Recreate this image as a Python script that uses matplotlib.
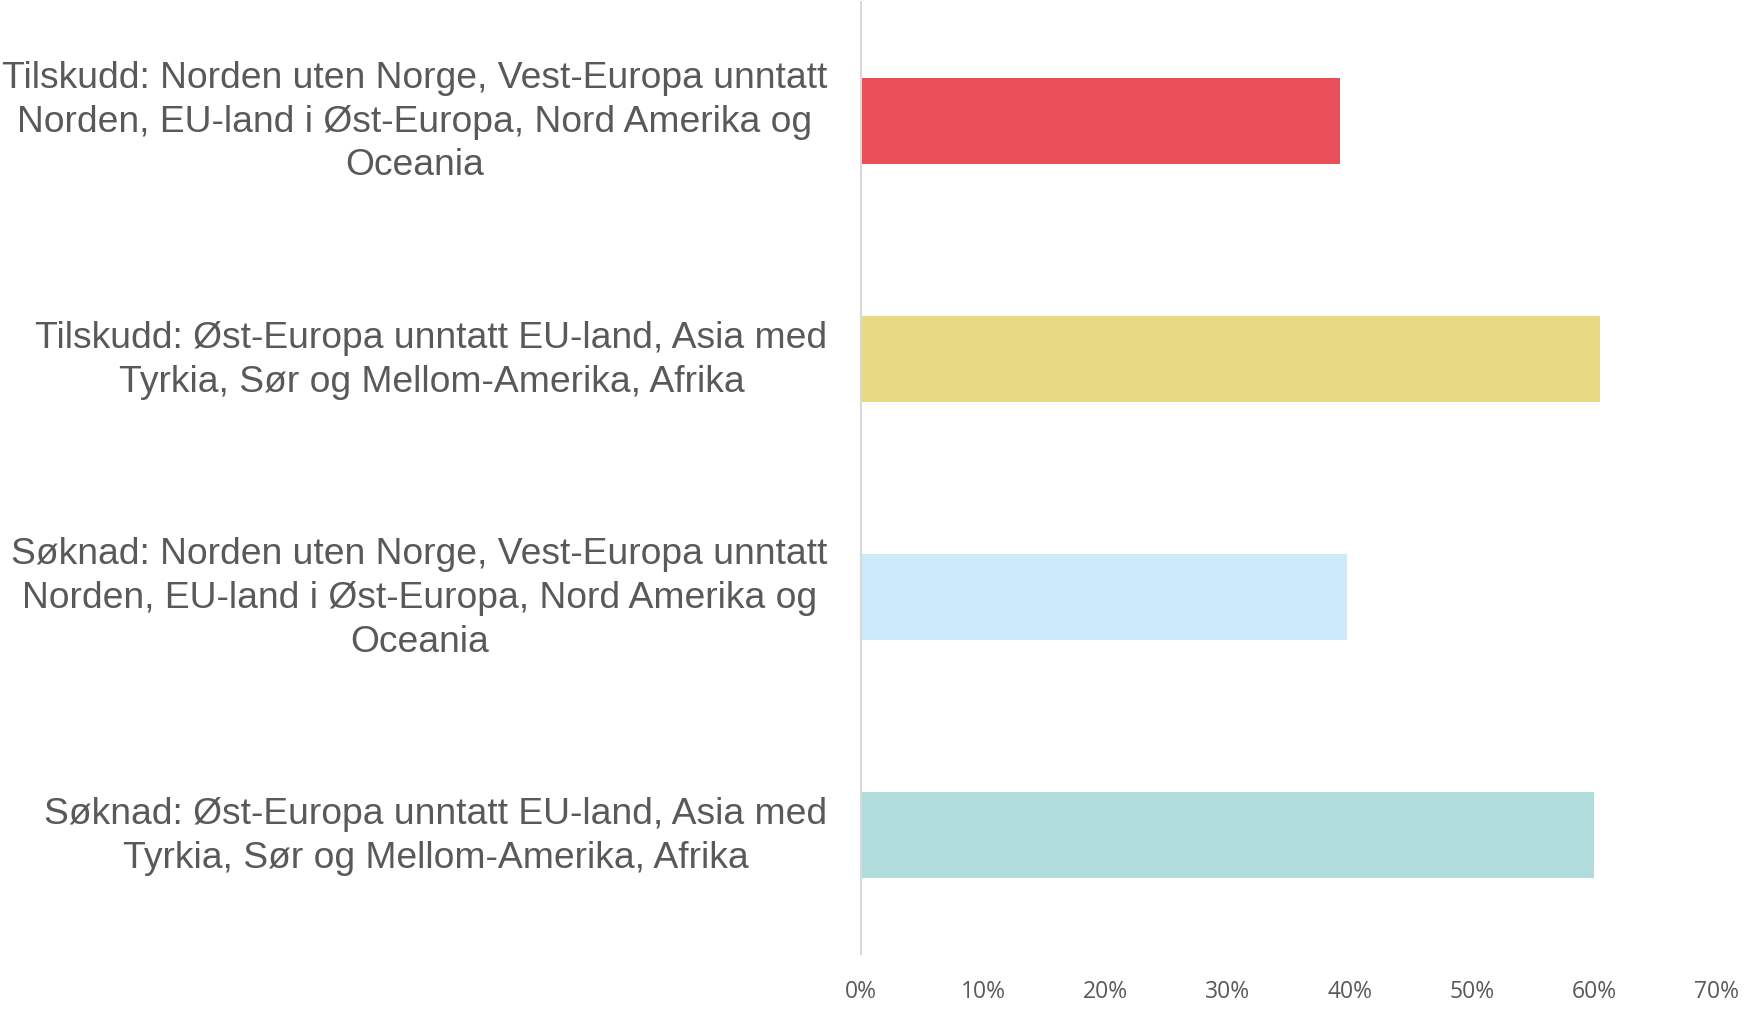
import matplotlib.pyplot as plt
from matplotlib.ticker import FuncFormatter

# Data
categories = [
    "Tilskudd: Norden uten Norge, Vest-Europa unntatt\nNorden, EU-land i Øst-Europa, Nord Amerika og\nOceania",
    "Tilskudd: Øst-Europa unntatt EU-land, Asia med\nTyrkia, Sør og Mellom-Amerika, Afrika",
    "Søknad: Norden uten Norge, Vest-Europa unntatt\nNorden, EU-land i Øst-Europa, Nord Amerika og\nOceania",
    "Søknad: Øst-Europa unntatt EU-land, Asia med\nTyrkia, Sør og Mellom-Amerika, Afrika",
]
values = [0.392, 0.605, 0.398, 0.600]
colors = ["#E94E59", "#E8D985", "#CCEAF9", "#B0DCDB"]
x_ticks = [0, 0.1, 0.2, 0.3, 0.4, 0.5, 0.6, 0.7]

fig = plt.figure(figsize=(17.52, 10.12), dpi=100)
ax = fig.add_axes([0.4914, 0.056, 0.4881, 0.941])

ypos = list(range(len(categories)))
ax.barh(ypos, values, height=0.36, color=colors)

ax.set_xlim(0, 0.7)
ax.set_ylim(len(categories) - 0.5, -0.5)
ax.set_xticks(x_ticks)
ax.xaxis.set_major_formatter(FuncFormatter(lambda v, _: f"{v * 100:.0f}%"))
ax.set_yticks(ypos)
ax.set_yticklabels(categories, fontsize=26.8, family="Liberation Sans",
                   color="#595959", multialignment="center", linespacing=1.33,
                   va="center")

for lbl in ax.get_xticklabels():
    lbl.set_family("Open Sans")
    lbl.set_fontsize(16.5)
    lbl.set_color("#595959")

ax.tick_params(axis="y", length=0, pad=24)
ax.tick_params(axis="x", length=0, pad=18)

for side in ["top", "right", "bottom"]:
    ax.spines[side].set_visible(False)
ax.spines["left"].set_color("#D9D9D9")
ax.spines["left"].set_linewidth(1.5)

fig.savefig("out.png", dpi=100, facecolor="white")
